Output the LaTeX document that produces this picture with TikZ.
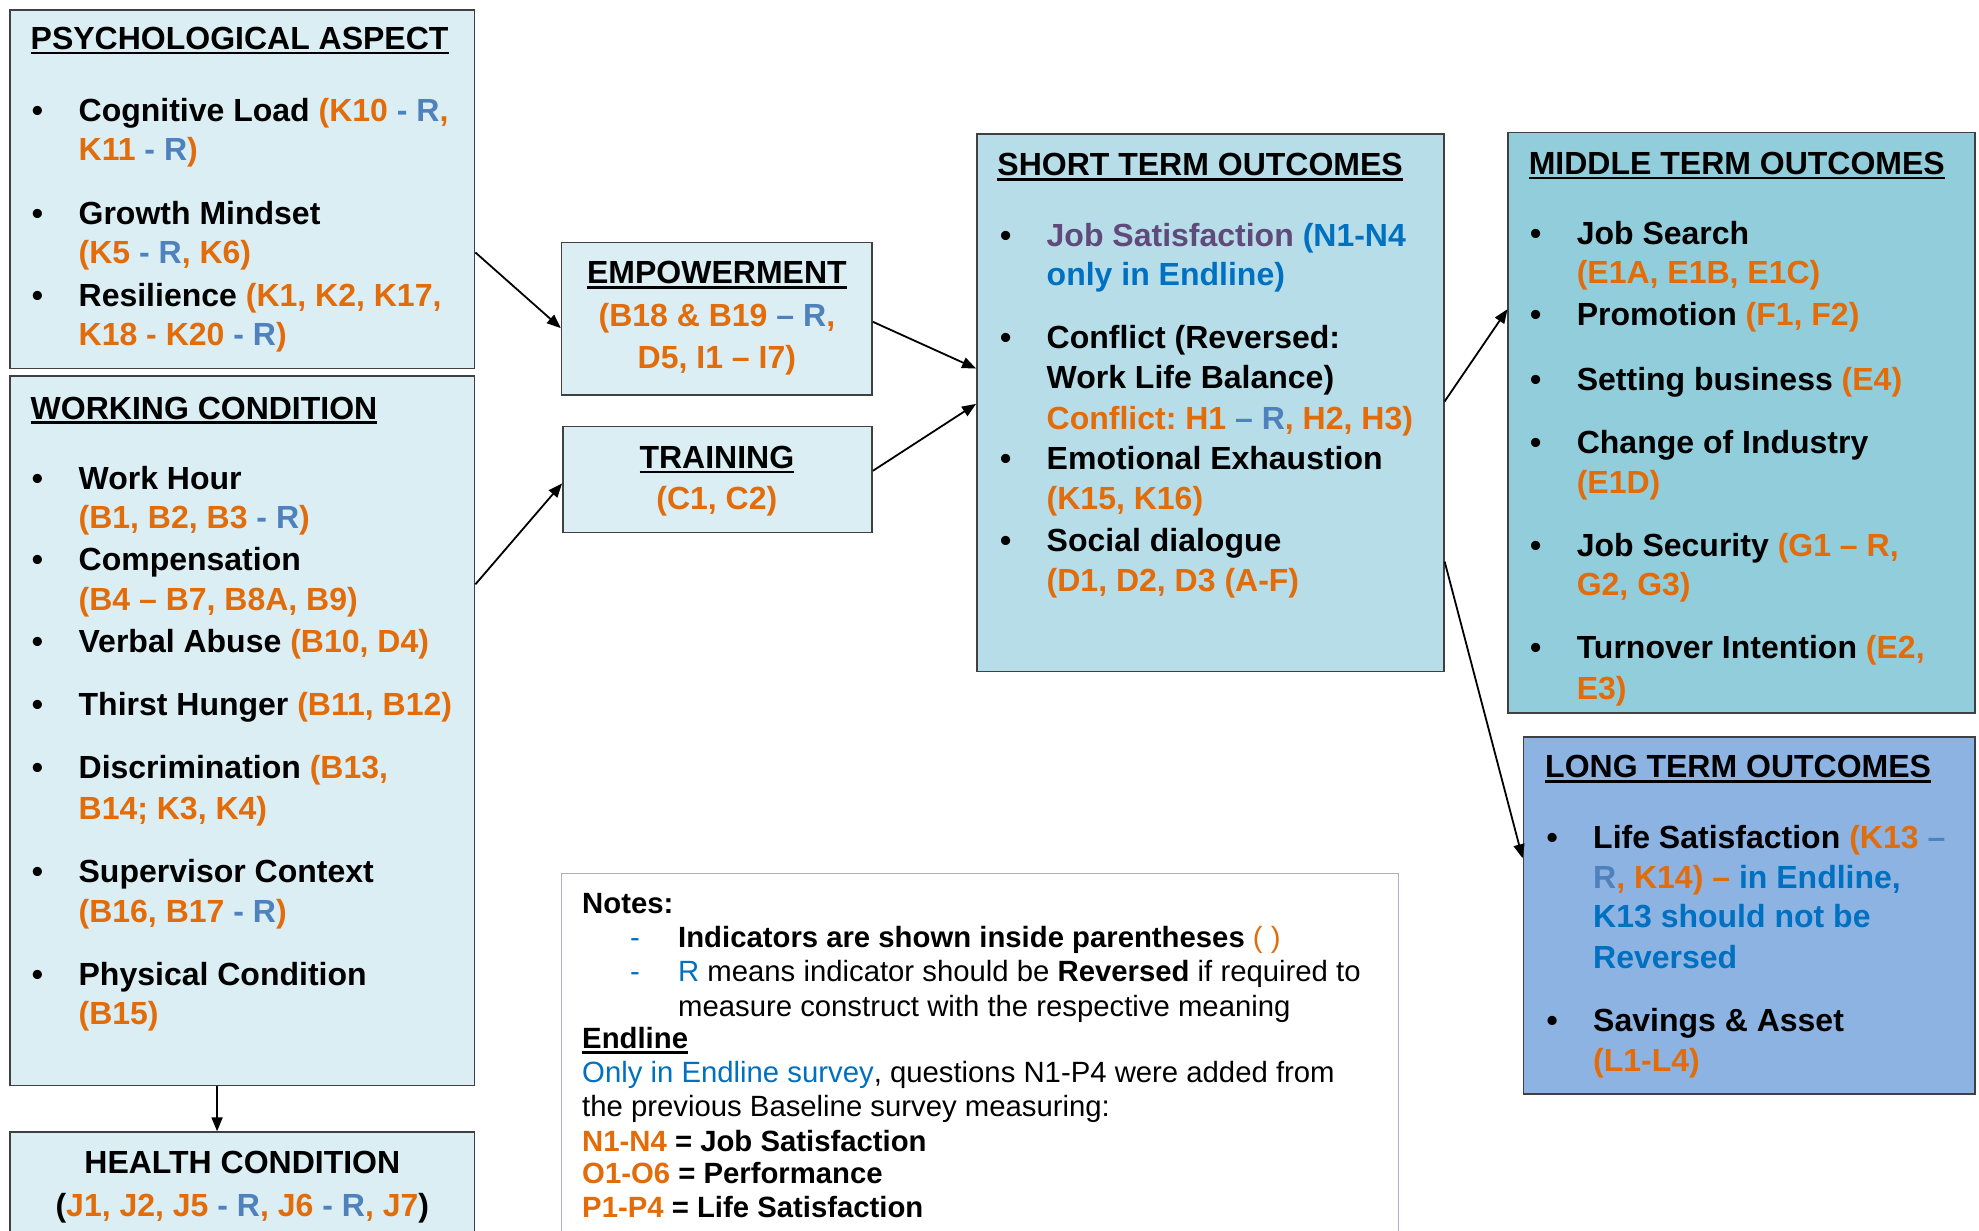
\documentclass[tikz,border=0pt]{standalone}
\usepackage{fontspec}
\setmainfont{Liberation Sans}
\usetikzlibrary{fit,arrows.meta}
\definecolor{org}{HTML}{E36C0A}
\definecolor{rb}{HTML}{4F81BD}
\definecolor{eb}{HTML}{0070C0}
\definecolor{pur}{HTML}{604A7B}
\definecolor{lbA}{HTML}{DAEEF3}
\definecolor{lbB}{HTML}{B7DDE8}
\definecolor{lbC}{HTML}{92CDDC}
\definecolor{lbD}{HTML}{8DB3E2}
\definecolor{bord}{HTML}{404040}
\definecolor{notec}{HTML}{B3A9D3}
\newcommand\co[1]{\textcolor{org}{#1}}
\newcommand\cb[1]{\textcolor{rb}{#1}}
\newcommand\ce[1]{\textcolor{eb}{#1}}
\newcommand\cpur[1]{\textcolor{pur}{#1}}
\newcommand\myul[1]{\setbox0\hbox{#1}\rlap{\rule[-2.6pt]{\wd0}{1.4pt}}\box0}
\frenchspacing
\begin{document}
\begin{tikzpicture}[x=0.63105pt,y=-0.63105pt,
  box/.style={draw=bord,line width=0.8pt,inner sep=0pt},
  txt/.style={inner sep=0pt,anchor=base west,font=\fontsize{16}{19}\selectfont\bfseries},
  ctxt/.style={txt,anchor=base},
  ntxt/.style={inner sep=0pt,anchor=base west,font=\fontsize{14.65}{17}\selectfont},
  arr/.style={-{Triangle[length=7pt,width=5.5pt]},line width=0.9pt}]
\useasboundingbox (0,0) rectangle (1568,975);
% boxes
\node[box,fill=lbA,fit={(8,8)(376,292)}] (psych) {};
\node[box,fill=lbA,fit={(8,298)(376,860)}] (work) {};
\node[box,fill=lbA,fit={(8,897)(376,990)}] (health) {};
\node[box,fill=lbA,fit={(445,192)(691,313)}] (emp) {};
\node[box,fill=lbA,fit={(446,338)(691,422)}] (train) {};
\node[box,fill=lbB,fit={(774,106)(1144,532)}] (short) {};
\node[box,fill=lbC,fit={(1195,105)(1565,565)}] (mid) {};
\node[box,fill=lbD,fit={(1207,584)(1565,867)}] (long) {};
\node[box,draw=notec,fill=white,fit={(445,692)(1108,990)}] (notes) {};
% arrows
\draw[arr] (psych.east |- 0,200) -- (emp.west |- 0,260);
\draw[arr] (work.east |- 0,463) -- (train.west |- 0,383);
\draw[arr] (emp.east |- 0,255) -- (short.west |- 0,292);
\draw[arr] (train.east |- 0,373) -- (short.west |- 0,320);
\draw[arr] (short.east |- 0,318) -- (mid.west |- 0,245);
\draw[arr] (short.east |- 0,445) -- (long.west |- 0,680);
\draw[arr] (work.south -| 172,0) -- (health.north -| 172,0);
% psychological
\node[txt] (pt) at (24,39) {\myul{PSYCHOLOGICAL ASPECT}};
\node[txt] (pb1) at (25,96) {•};
\node[txt] (p1) at (62,96) {Cognitive Load \co{(K10 }\cb{- R}\co{,}};
\node[txt] (p2) at (62,127) {\co{K11 }\cb{- R}\co{)}};
\node[txt] (pb2) at (25,178) {•};
\node[txt] (p3) at (62,178) {Growth Mindset};
\node[txt] (p4) at (62,209) {\co{(K5 }\cb{- R}\co{, K6)}};
\node[txt] (pb3) at (25,243) {•};
\node[txt] (p5) at (62,243) {Resilience \co{(K1, K2, K17,}};
\node[txt] (p6) at (62,274) {\co{K18 - K20 }\cb{- R}\co{)}};
% working
\node[txt] (wt) at (24,332) {\myul{WORKING CONDITION}};
\node[txt] (wb1) at (25,388) {•};
\node[txt] (w1) at (62,388) {Work Hour};
\node[txt] (w2) at (62,419) {\co{(B1, B2, B3 }\cb{- R}\co{)}};
\node[txt] (wb2) at (25,452) {•};
\node[txt] (w3) at (62,452) {Compensation};
\node[txt] (w4) at (62,484) {\co{(B4 – B7, B8A, B9)}};
\node[txt] (wb3) at (25,517) {•};
\node[txt] (w5) at (62,517) {Verbal Abuse \co{(B10, D4)}};
\node[txt] (wb4) at (25,567) {•};
\node[txt] (w6) at (62,567) {Thirst Hunger \co{(B11, B12)}};
\node[txt] (wb5) at (25,617) {•};
\node[txt] (w7) at (62,617) {Discrimination \co{(B13,}};
\node[txt] (w8) at (62,649) {\co{B14; K3, K4)}};
\node[txt] (wb6) at (25,699) {•};
\node[txt] (w9) at (62,699) {Supervisor Context};
\node[txt] (w10) at (62,731) {\co{(B16, B17 }\cb{- R}\co{)}};
\node[txt] (wb7) at (25,781) {•};
\node[txt] (w11) at (62,781) {Physical Condition};
\node[txt] (w12) at (62,812) {\co{(B15)}};
% health
\node[ctxt] (ht) at (192,930) {HEALTH CONDITION};
\node[ctxt] (h1) at (192,964) {(\co{J1, J2, J5 }\cb{- R}\co{, J6 }\cb{- R}\co{, J7})};
% empowerment
\node[ctxt] (et) at (568,225) {\myul{EMPOWERMENT}};
\node[ctxt] (e1) at (568,259) {\co{(B18 \& B19 }\cb{– R}\co{,}};
\node[ctxt] (e2) at (568,292) {\co{D5, I1 – I7)}};
% training
\node[ctxt] (tt) at (568,371) {\myul{TRAINING}};
\node[ctxt] (t1) at (568,404) {\co{(C1, C2)}};
% short term
\node[txt] (st) at (790,139) {\myul{SHORT TERM OUTCOMES}};
\node[txt] (sb1) at (792,195) {•};
\node[txt] (s1) at (829,195) {\cpur{Job Satisfaction} \ce{(N1-N4}};
\node[txt] (s2) at (829,226) {\ce{only in Endline)}};
\node[txt] (sb2) at (792,276) {•};
\node[txt] (s3) at (829,276) {Conflict (Reversed:};
\node[txt] (s4) at (829,308) {Work Life Balance)};
\node[txt] (s5) at (829,340) {\co{Conflict: H1 }\cb{– R}\co{, H2, H3)}};
\node[txt] (sb3) at (792,372) {•};
\node[txt] (s6) at (829,372) {Emotional Exhaustion};
\node[txt] (s7) at (829,404) {\co{(K15, K16)}};
\node[txt] (sb4) at (792,437) {•};
\node[txt] (s8) at (829,437) {Social dialogue};
\node[txt] (s9) at (829,469) {\co{(D1, D2, D3 (A-F)}};
% middle term
\node[txt] (mt) at (1211,138) {\myul{MIDDLE TERM OUTCOMES}};
\node[txt] (mb1) at (1212,194) {•};
\node[txt] (m1) at (1249,194) {Job Search};
\node[txt] (m2) at (1249,225) {\co{(E1A, E1B, E1C)}};
\node[txt] (mb2) at (1212,258) {•};
\node[txt] (m3) at (1249,258) {Promotion \co{(F1, F2)}};
\node[txt] (mb3) at (1212,309) {•};
\node[txt] (m4) at (1249,309) {Setting business \co{(E4)}};
\node[txt] (mb4) at (1212,359) {•};
\node[txt] (m5) at (1249,359) {Change of Industry};
\node[txt] (m6) at (1249,391) {\co{(E1D)}};
\node[txt] (mb5) at (1212,441) {•};
\node[txt] (m7) at (1249,441) {Job Security \co{(G1 – R,}};
\node[txt] (m8) at (1249,472) {\co{G2, G3)}};
\node[txt] (mb6) at (1212,522) {•};
\node[txt] (m9) at (1249,522) {Turnover Intention \co{(E2,}};
\node[txt] (m10) at (1249,554) {\co{E3)}};
% long term
\node[txt] (lt) at (1224,616) {\myul{LONG TERM OUTCOMES}};
\node[txt] (lb1) at (1225,672) {•};
\node[txt] (l1) at (1262,672) {Life Satisfaction \co{(K13 }\cb{–}};
\node[txt] (l2) at (1262,704) {\cb{R}\co{, K14) –} \ce{in Endline,}};
\node[txt] (l3) at (1262,735) {\ce{K13 should not be}};
\node[txt] (l4) at (1262,767) {\ce{Reversed}};
\node[txt] (lb2) at (1225,817) {•};
\node[txt] (l5) at (1262,817) {Savings \& Asset};
\node[txt] (l6) at (1262,849) {\co{(L1-L4)}};
% notes
\node[ntxt] (n0) at (461,724) {\bfseries Notes:};
\node[ntxt] (nd1) at (499,751) {\ce{-}};
\node[ntxt] (n1) at (537,751) {\bfseries Indicators are shown inside parentheses \co{\mdseries( )}};
\node[ntxt] (nd2) at (499,778) {\ce{-}};
\node[ntxt] (n2) at (537,778) {\ce{R} means indicator should be \textbf{Reversed} if required to};
\node[ntxt] (n3) at (537,805) {measure construct with the respective meaning};
\node[ntxt] (n4) at (461,831) {\bfseries\myul{Endline}};
\node[ntxt] (n5) at (461,858) {\ce{Only in Endline survey}, questions N1-P4 were added from};
\node[ntxt] (n6) at (461,885) {the previous Baseline survey measuring:};
\node[ntxt] (n7) at (461,912) {\bfseries\co{N1-N4} = Job Satisfaction};
\node[ntxt] (n8) at (461,938) {\bfseries\co{O1-O6} = Performance};
\node[ntxt] (n9) at (461,965) {\bfseries\co{P1-P4} = Life Satisfaction};
\end{tikzpicture}
\end{document}
